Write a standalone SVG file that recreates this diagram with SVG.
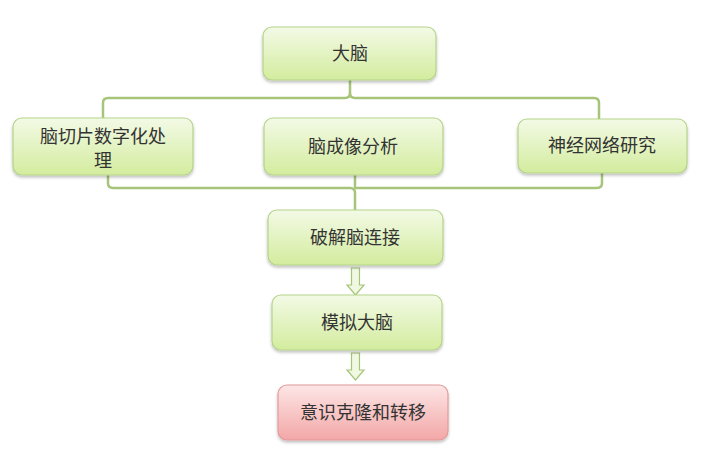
<svg xmlns="http://www.w3.org/2000/svg" width="706" height="461" viewBox="0 0 706 461">
<defs>
<linearGradient id="g" x1="0" y1="0" x2="0" y2="1">
<stop offset="0" stop-color="#f3fae6"/>
<stop offset="1" stop-color="#d3ec9e"/>
</linearGradient>
<linearGradient id="r" x1="0" y1="0" x2="0" y2="1">
<stop offset="0" stop-color="#fde6e6"/>
<stop offset="1" stop-color="#f3a7a7"/>
</linearGradient>
<filter id="sh" x="-10%" y="-10%" width="120%" height="130%">
<feDropShadow dx="0" dy="2" stdDeviation="1.5" flood-color="#000" flood-opacity="0.25"/>
</filter>
</defs>
<style>
.n{fill:url(#g);stroke:#b5d38a;stroke-width:1.2;filter:url(#sh)}
.nr{fill:url(#r);stroke:#e39a9a;stroke-width:1.2;filter:url(#sh)}
.t{font-family:"Noto Sans CJK SC","Liberation Sans",sans-serif;font-size:18px;fill:#333;text-anchor:middle}
.c{fill:none;stroke:#a6c57a;stroke-width:2.5;stroke-linejoin:round}
.a{fill:#f0f8e2;stroke:#a6c57a;stroke-width:1.2}
</style>
<rect width="706" height="461" fill="#fff"/>
<g id="connectors">
<path class="c" d="M350 80 V93 Q350 98 345 98 H108 Q103 98 103 103 V118"/>
<path class="c" d="M350 93 Q350 98 355 98 H594 Q599 98 599 103 V119"/>
<path class="c" d="M108 175 V183 Q108 188 113 188 H350 Q355 188 355 193 V210"/>
<path class="c" d="M355 175 V188"/>
<path class="c" d="M602 173 V183 Q602 188 597 188 H355"/>
<path class="a" d="M351.5 268 H359.5 V285 H364 L355.5 295 L347 285 H351.5 Z"/>
<path class="a" d="M351.5 353 H359.5 V370 H364 L355.5 380 L347 370 H351.5 Z"/>
</g>
<g id="n1"><rect class="n" x="263" y="27" width="173" height="53" rx="9"/><text class="t" x="350" y="60">大脑</text></g>
<g id="n2"><rect class="n" x="13" y="118" width="180" height="57" rx="9"/><text class="t" x="103" y="143">脑切片数字化处</text><text class="t" x="103" y="167">理</text></g>
<g id="n3"><rect class="n" x="264" y="118" width="179" height="57" rx="9"/><text class="t" x="353" y="153">脑成像分析</text></g>
<g id="n4"><rect class="n" x="518" y="119" width="169" height="54" rx="9"/><text class="t" x="602" y="152">神经网络研究</text></g>
<g id="n5"><rect class="n" x="268" y="210" width="175" height="55" rx="9"/><text class="t" x="355" y="244">破解脑连接</text></g>
<g id="n6"><rect class="n" x="272" y="295" width="170" height="55" rx="9"/><text class="t" x="357" y="329">模拟大脑</text></g>
<g id="n7"><rect class="nr" x="278" y="385" width="170" height="55" rx="9"/><text class="t" x="363" y="419">意识克隆和转移</text></g>
</svg>
